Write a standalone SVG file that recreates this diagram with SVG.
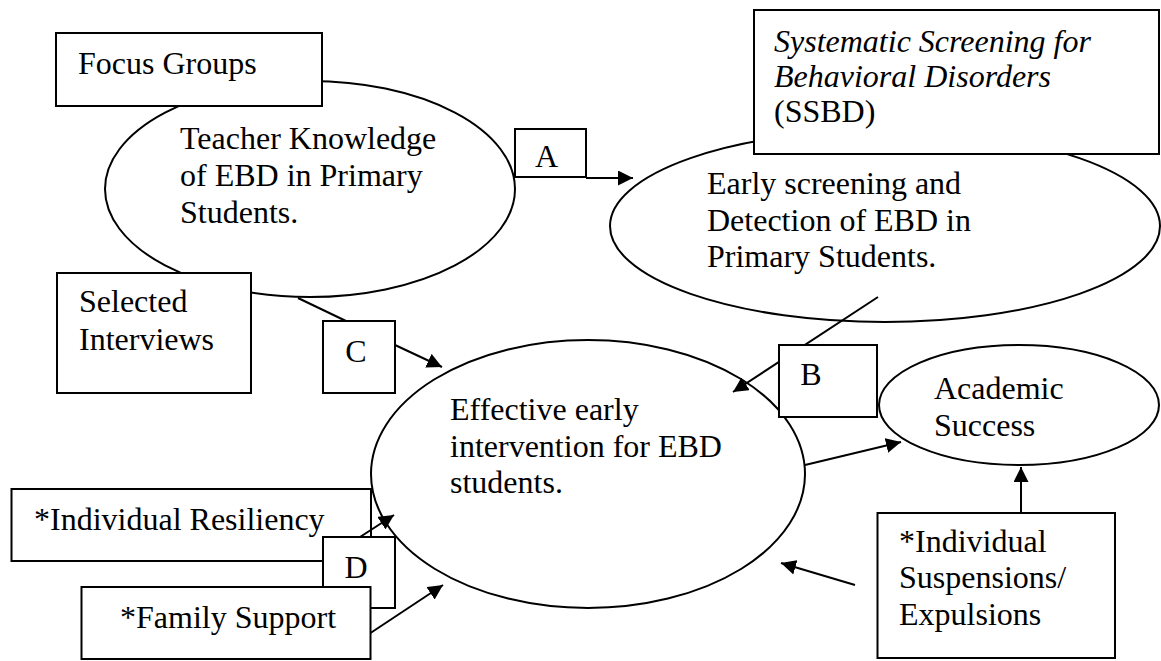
<svg xmlns="http://www.w3.org/2000/svg" width="1161" height="661" viewBox="0 0 1161 661">
<style>
  .t text { font-size: 32px; fill: #000; }
  .it { font-style: italic; }
  .box { fill: #fff; stroke: #000; stroke-width: 2; }
  .ell { fill: #fff; stroke: #000; stroke-width: 2; }
  .con { stroke: #000; stroke-width: 2; fill: none; }
</style>
<defs>
  <marker id="ah" markerUnits="userSpaceOnUse" markerWidth="16" markerHeight="15" refX="15" refY="7.5" orient="auto">
    <path d="M0,0 L15,7.5 L0,15 Z" fill="#000"/>
  </marker>
</defs>
<rect width="1161" height="661" fill="#fff"/>
<g class="t" font-family="Liberation Serif, Times New Roman, Tinos, DejaVu Serif, serif">

<g id="teacher">
  <ellipse class="ell" cx="310" cy="189" rx="205" ry="108"/>
  <text x="180" y="149">Teacher Knowledge</text>
  <text x="180" y="186">of EBD in Primary</text>
  <text x="180" y="223">Students.</text>
</g>
<g id="focus-groups">
  <rect class="box" x="56" y="33" width="266" height="73"/>
  <text x="78" y="74">Focus Groups</text>
</g>
<g id="selected-interviews">
  <rect class="box" x="57" y="273" width="194" height="120"/>
  <text x="79" y="312">Selected</text>
  <text x="79" y="350">Interviews</text>
</g>

<g id="early">
  <ellipse class="ell" cx="885" cy="226" rx="275" ry="96"/>
  <text x="707" y="194">Early screening and</text>
  <text x="707" y="231">Detection of EBD in</text>
  <text x="707" y="267">Primary Students.</text>
</g>
<g id="ssbd">
  <rect class="box" x="754" y="10" width="405" height="144"/>
  <text class="it" x="774" y="52">Systematic Screening for</text>
  <text class="it" x="774" y="87">Behavioral Disorders</text>
  <text x="774" y="122">(SSBD)</text>
</g>

<g id="effective">
  <ellipse class="ell" cx="588" cy="474" rx="217" ry="134"/>
  <text x="450" y="420">Effective early</text>
  <text x="450" y="457">intervention for EBD</text>
  <text x="450" y="493">students.</text>
</g>

<g id="academic">
  <ellipse class="ell" cx="1019" cy="405" rx="140" ry="60"/>
  <text x="934" y="399">Academic</text>
  <text x="934" y="436">Success</text>
</g>

<g id="resiliency">
  <rect class="box" x="11.5" y="489" width="359.5" height="72"/>
  <text x="34" y="530">*Individual Resiliency</text>
</g>

<g id="connectors">
  <line class="con" x1="586" y1="178" x2="633" y2="178" marker-end="url(#ah)"/>
  <line class="con" x1="298" y1="298" x2="346" y2="321"/>
  <line class="con" x1="395" y1="345" x2="442" y2="367" marker-end="url(#ah)"/>
  <line class="con" x1="878" y1="297" x2="733" y2="392" marker-end="url(#ah)"/>
  <line class="con" x1="805" y1="465" x2="901" y2="442" marker-end="url(#ah)"/>
  <line class="con" x1="1021" y1="513" x2="1021" y2="467" marker-end="url(#ah)"/>
  <line class="con" x1="855" y1="585" x2="781" y2="563" marker-end="url(#ah)"/>
  <line class="con" x1="360" y1="537" x2="394" y2="515" marker-end="url(#ah)"/>
  <line class="con" x1="370.5" y1="633" x2="443" y2="585" marker-end="url(#ah)"/>
</g>

<g id="label-a">
  <rect class="box" x="515" y="129" width="71" height="48"/>
  <text x="546.5" y="167" text-anchor="middle">A</text>
</g>
<g id="label-c">
  <rect class="box" x="323" y="321" width="72" height="72"/>
  <text x="356" y="362" text-anchor="middle">C</text>
</g>
<g id="label-b">
  <rect class="box" x="779" y="345" width="98" height="72"/>
  <text x="811" y="385" text-anchor="middle">B</text>
</g>
<g id="label-d">
  <rect class="box" x="323" y="537" width="72" height="71"/>
  <text x="356" y="578" text-anchor="middle">D</text>
</g>

<g id="family-support">
  <rect class="box" x="81.5" y="587" width="289" height="72"/>
  <text x="120" y="628">*Family Support</text>
</g>

<g id="suspensions">
  <rect class="box" x="877.5" y="513" width="237.5" height="145"/>
  <text x="899" y="552">*Individual</text>
  <text x="899" y="588">Suspensions/</text>
  <text x="899" y="625">Expulsions</text>
</g>
</g>
</svg>
